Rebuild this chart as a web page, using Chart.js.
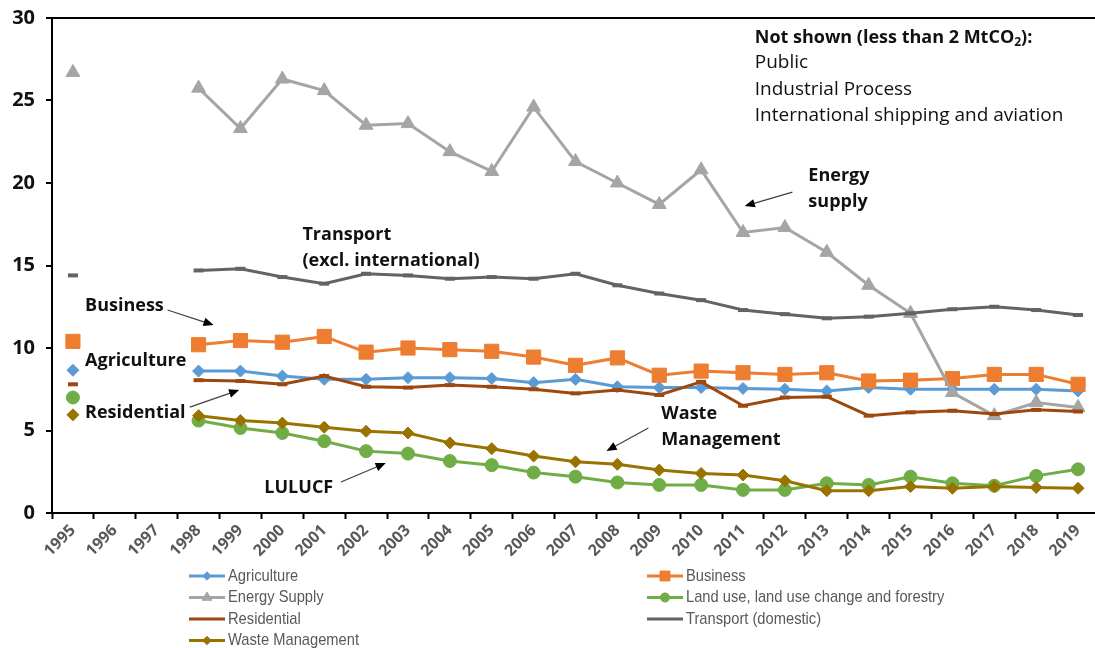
<!DOCTYPE html>
<html>
<head>
<meta charset="utf-8">
<script src="https://cdn.jsdelivr.net/npm/chart.js@4.4.0/dist/chart.umd.min.js"></script>
<style>
html, body { margin: 0; padding: 0; background: #fff; overflow: hidden; }
#wrap { width: 1095px; height: 648px; overflow: hidden; }
</style>
</head>
<body>
<div id="wrap"><canvas id="myChart" width="1110" height="648"></canvas></div>
<script>
// years on the category axis (1996 and 1997 have no data)
var years = ['1995', '1996', '1997', '1998', '1999', '2000', '2001', '2002', '2003', '2004', '2005',
  '2006', '2007', '2008', '2009', '2010', '2011', '2012', '2013', '2014', '2015', '2016', '2017', '2018', '2019'];

var agriculture = [8.65, null, null, 8.6, 8.6, 8.3, 8.1, 8.1, 8.2, 8.2, 8.15, 7.9, 8.1, 7.65, 7.6, 7.6, 7.55, 7.5, 7.4, 7.6, 7.5, 7.5, 7.5, 7.5, 7.4];
var business = [10.4, null, null, 10.2, 10.45, 10.35, 10.7, 9.75, 10.0, 9.9, 9.8, 9.45, 8.95, 9.4, 8.35, 8.6, 8.5, 8.4, 8.5, 8.0, 8.05, 8.15, 8.4, 8.4, 7.8];
var energySupply = [26.7, null, null, 25.75, 23.3, 26.3, 25.6, 23.5, 23.6, 21.9, 20.7, 24.6, 21.3, 20.0, 18.7, 20.8, 17.0, 17.3, 15.8, 13.8, 12.1, 7.3, 5.9, 6.7, 6.4];
var lulucf = [7.0, null, null, 5.6, 5.15, 4.85, 4.35, 3.75, 3.6, 3.15, 2.9, 2.45, 2.2, 1.85, 1.7, 1.7, 1.4, 1.4, 1.8, 1.7, 2.2, 1.8, 1.65, 2.25, 2.65];
var residential = [7.8, null, null, 8.05, 8.0, 7.8, 8.3, 7.65, 7.6, 7.75, 7.65, 7.5, 7.25, 7.45, 7.15, 7.95, 6.5, 7.0, 7.05, 5.9, 6.1, 6.2, 6.0, 6.25, 6.15];
var transport = [14.4, null, null, 14.7, 14.8, 14.3, 13.9, 14.5, 14.4, 14.2, 14.3, 14.2, 14.5, 13.8, 13.3, 12.9, 12.3, 12.05, 11.8, 11.9, 12.1, 12.35, 12.5, 12.3, 12.0];
var wasteManagement = [5.95, null, null, 5.9, 5.6, 5.45, 5.2, 4.95, 4.85, 4.25, 3.9, 3.45, 3.1, 2.95, 2.6, 2.4, 2.3, 1.95, 1.35, 1.35, 1.6, 1.5, 1.6, 1.55, 1.5];

var yTicks = [0, 5, 10, 15, 20, 25, 30];

// text notes on the plot, placed in data units (x = category index, y = value)
var notes = [
  { x: 0.29, y: 12.55, lines: ['Business'] },
  { x: 0.29, y: 9.21, lines: ['Agriculture'] },
  { x: 0.29, y: 6.06, lines: ['Residential'] },
  { x: 4.57, y: 1.52, lines: ['LULUCF'] },
  { x: 14.05, y: 6.0, lines: ['Waste', 'Management'] },
  { x: 5.48, y: 16.85, lines: ['Transport', '(excl. international)'] },
  { x: 17.56, y: 20.42, lines: ['Energy', 'supply'] }
];
var arrows = [
  { x1: 2.26, y1: 12.3, x2: 3.36, y2: 11.39 },
  { x1: 2.79, y1: 6.42, x2: 3.97, y2: 7.45 },
  { x1: 6.40, y1: 1.88, x2: 7.47, y2: 3.03 },
  { x1: 13.74, y1: 5.15, x2: 12.74, y2: 3.76 },
  { x1: 17.18, y1: 19.45, x2: 16.04, y2: 18.6 }
];
var notShown = { x: 16.28, y: 28.8, items: ['Public', 'Industrial Process', 'International shipping and aviation'] };

function series(label, data, color, style, radius, bw) {
  return {
    label: label,
    data: data,
    borderColor: color,
    backgroundColor: color,
    borderWidth: 3,
    pointStyle: style,
    pointRadius: radius,
    pointBorderWidth: bw,
    pointBackgroundColor: color,
    pointBorderColor: color,
    tension: 0
  };
}

var datasets = [
  series('Agriculture', agriculture, '#5B9BD5', 'rectRot', 6, 1),
  series('Business', business, '#ED7D31', 'rect', 10, 1),
  series('Energy Supply', energySupply, '#A5A5A5', 'triangle', 8, 1),
  series('Land use, land use change and forestry', lulucf, '#70AD47', 'circle', 6.5, 1),
  series('Residential', residential, '#9E480E', 'line', 5, 4),
  series('Transport (domestic)', transport, '#636363', 'line', 5, 4),
  series('Waste Management', wasteManagement, '#997300', 'rectRot', 6, 1)
];
datasets.forEach(function (d, i) { d.order = datasets.length - i; });

function drawArrow(ctx, x1, y1, x2, y2) {
  var a = Math.atan2(y2 - y1, x2 - x1);
  var head = 11;
  ctx.save();
  ctx.strokeStyle = '#404040';
  ctx.fillStyle = '#000';
  ctx.lineWidth = 1.2;
  ctx.beginPath();
  ctx.moveTo(x1, y1);
  ctx.lineTo(x2 - Math.cos(a) * head * 0.8, y2 - Math.sin(a) * head * 0.8);
  ctx.stroke();
  ctx.beginPath();
  ctx.moveTo(x2, y2);
  ctx.lineTo(x2 - head * Math.cos(a - 0.4), y2 - head * Math.sin(a - 0.4));
  ctx.lineTo(x2 - head * Math.cos(a + 0.4), y2 - head * Math.sin(a + 0.4));
  ctx.closePath();
  ctx.fill();
  ctx.restore();
}

var notesPlugin = {
  id: 'notes',
  afterDatasetsDraw: function (chart) {
    var ctx = chart.ctx, xs = chart.scales.x, ys = chart.scales.y;
    ctx.save();
    ctx.fillStyle = '#111';
    ctx.textBaseline = 'middle';
    ctx.textAlign = 'left';
    ctx.font = 'bold 18px "Open Sans"';
    notes.forEach(function (n) {
      var px = xs.getPixelForValue(n.x), py = ys.getPixelForValue(n.y);
      n.lines.forEach(function (t, k) { ctx.fillText(t, px, py + k * 26); });
    });
    arrows.forEach(function (a) {
      drawArrow(ctx, xs.getPixelForValue(a.x1), ys.getPixelForValue(a.y1), xs.getPixelForValue(a.x2), ys.getPixelForValue(a.y2));
    });
    // "Not shown" note
    var px = xs.getPixelForValue(notShown.x), py = ys.getPixelForValue(notShown.y);
    ctx.font = 'bold 18px "Open Sans"';
    var s1 = 'Not shown (less than 2 MtCO';
    ctx.fillText(s1, px, py);
    var w = ctx.measureText(s1).width;
    ctx.font = 'bold 12px "Open Sans"';
    ctx.fillText('2', px + w, py + 5);
    var w2 = ctx.measureText('2').width;
    ctx.font = 'bold 18px "Open Sans"';
    ctx.fillText('):', px + w + w2, py);
    ctx.font = '19px "Open Sans"';
    notShown.items.forEach(function (t, k) { ctx.fillText(t, px, py + 25 + k * 26.5); });
    ctx.restore();
  }
};

var legendPlugin = {
  id: 'bottomLegend',
  afterDraw: function (chart) {
    var ctx = chart.ctx;
    var top = chart.chartArea.bottom + 63;
    var cols = [189, 647];
    ctx.save();
    ctx.font = '17px "Liberation Sans", Arial, sans-serif';
    ctx.textBaseline = 'middle';
    ctx.textAlign = 'left';
    chart.data.datasets.forEach(function (d, i) {
      var x = cols[i % 2], y = top + Math.floor(i / 2) * 21.5;
      ctx.strokeStyle = d.borderColor;
      ctx.lineWidth = 3;
      ctx.beginPath();
      ctx.moveTo(x, y);
      ctx.lineTo(x + 36, y);
      ctx.stroke();
      if (d.pointStyle !== 'line') {
        ctx.fillStyle = d.pointBackgroundColor;
        ctx.strokeStyle = d.pointBorderColor;
        ctx.lineWidth = 1;
        Chart.helpers.drawPoint(ctx, { pointStyle: d.pointStyle, radius: d.pointRadius * 0.7, rotation: 0, borderWidth: 1 }, x + 18, y);
      }
      // narrow text, like the condensed legend font of the original
      ctx.save();
      ctx.translate(x + 39, y);
      ctx.scale(0.865, 1);
      ctx.fillStyle = '#595959';
      ctx.fillText(d.label, 0, 0);
      ctx.restore();
    });
    ctx.restore();
  }
};

var config = {
  type: 'line',
  data: { labels: years, datasets: datasets },
  options: {
    responsive: false,
    animation: false,
    // the canvas is a bit wider than the page, so the last category is cut off like the original
    layout: { padding: { top: 18, left: 0, right: 0, bottom: 0 } },
    plugins: { legend: { display: false }, tooltip: { enabled: false } },
    scales: {
      x: {
        offset: true,
        grid: { offset: true, drawOnChartArea: false, tickLength: 6, tickColor: '#000', tickWidth: 2 },
        border: { color: '#000', width: 2 },
        ticks: {
          autoSkip: false, maxRotation: 45, minRotation: 45, padding: 2,
          color: '#595959', font: { family: 'Open Sans', size: 16, weight: 'bold' }
        },
        afterFit: function (s) { s.height = 135; s.paddingLeft = 0; s.paddingRight = 0; }
      },
      y: {
        min: 0,
        max: 30,
        afterBuildTicks: function (s) { s.ticks = yTicks.map(function (v) { return { value: v }; }); },
        grid: {
          color: function (c) { return c.tick && c.tick.value === 30 ? '#000' : 'rgba(0,0,0,0)'; },
          lineWidth: 2, tickLength: 6, tickColor: '#000', tickWidth: 2
        },
        border: { color: '#000', width: 2 },
        ticks: { padding: 11, color: '#111', font: { family: 'Open Sans', size: 20, weight: 'bold' } },
        afterFit: function (s) { s.width = 52; s.paddingTop = 0; s.paddingBottom = 0; }
      }
    }
  },
  plugins: [notesPlugin, legendPlugin]
};

var myChart = new Chart(document.getElementById('myChart'), config);
</script>
</body>
</html>
